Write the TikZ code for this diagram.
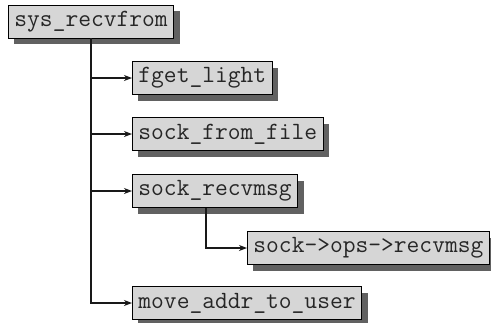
\documentclass[tikz,border=0pt]{standalone}
\usetikzlibrary{arrows.meta, shadows}

\begin{document}
\begin{tikzpicture}[x=1pt, y=-1pt,
        func/.style={draw=black, line width=0.9pt, fill=black!16, anchor=west,
            inner xsep=6pt, inner ysep=0pt, minimum height=33pt,
            font=\fontsize{24.8}{27}\selectfont\ttfamily, text=black!85,
            drop shadow={shadow xshift=6pt, shadow yshift=-6pt, fill=black!62, opacity=1}},
        call/.style={line width=1.5pt, draw=black!90, -{Stealth[length=8pt, width=6pt, inset=2.5pt]}}]
        \useasboundingbox (0,0) rectangle (491,322);
        \node[func] (recvfrom) at (8,21.5) {sys\_recvfrom};
        \node[func] (fget) at (132,78) {fget\_light};
        \node[func] (fromfile) at (132,134) {sock\_from\_file};
        \node[func] (recvmsg) at (132,191) {sock\_recvmsg};
        \node[func] (opsrecv) at (247,248) {sock->ops->recvmsg};
        \node[func] (moveaddr) at (132,303) {move\_addr\_to\_user};
        \draw[call] (recvfrom.south) |- (fget.west);
        \draw[call] (recvfrom.south) |- (fromfile.west);
        \draw[call] (recvfrom.south) |- (recvmsg.west);
        \draw[call] (recvfrom.south) |- (moveaddr.west);
        \draw[call] ([xshift=-9pt]recvmsg.south) |- (opsrecv.west);
    \end{tikzpicture}
\end{document}
